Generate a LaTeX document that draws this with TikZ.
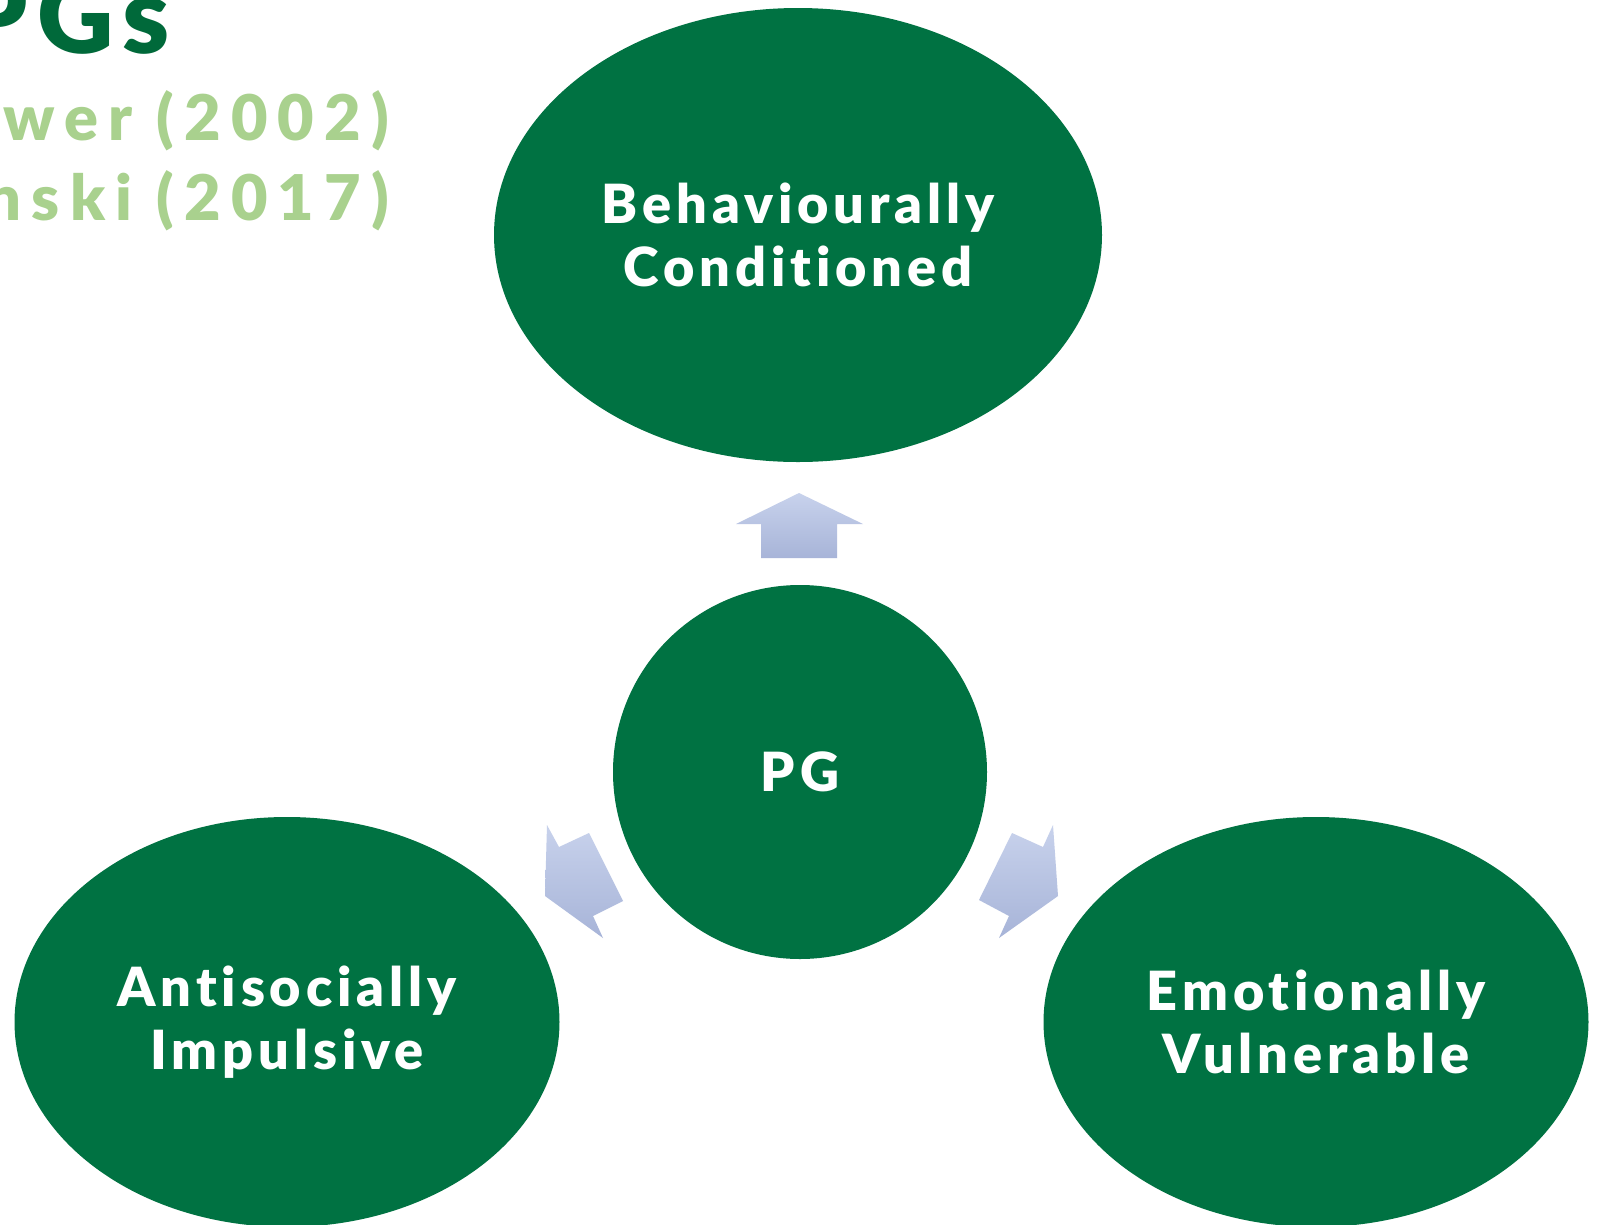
\documentclass[tikz,border=0pt]{standalone}
\usepackage{fontspec}
\setmainfont{Lato}[BoldFont=Lato Black, Ligatures=NoCommon]
\usetikzlibrary{shapes.geometric}
\definecolor{pggreen}{HTML}{007242}
\definecolor{titlegreen}{HTML}{00693A}
\definecolor{lightgreen}{HTML}{A9D18E}
\definecolor{arrowtop}{HTML}{C8D2EC}
\definecolor{arrowbot}{HTML}{A7B4D8}
\newfontfamily\widefont{Lato}[BoldFont=Lato Black, Ligatures=NoCommon, LetterSpace=9]
\newfontfamily\widerfont{Lato}[BoldFont=Lato Black, Ligatures=NoCommon, LetterSpace=16]
\tikzset{
  blob/.style={ellipse, fill=pggreen, inner sep=0pt, text=white, align=center,
    font=\widefont\fontsize{54}{63}\selectfont\bfseries},
  fatarrow/.style={top color=arrowtop, bottom color=arrowbot, draw=none},
  refline/.style={anchor=base east, inner sep=0pt, text=lightgreen,
    font=\widerfont\fontsize{63}{63}\selectfont\bfseries},
}
\begin{document}
\begin{tikzpicture}[x=1pt,y=-1pt]
\useasboundingbox (0,0) rectangle (1601,1224);
\clip (0,0) rectangle (1601,1224);
\fill[white] (0,0) rectangle (1601,1224);
% title fragments
\node[anchor=base east, inner sep=0pt, text=titlegreen,
  font=\widefont\fontsize{106}{106}\selectfont\bfseries] (title) at (170,53) {PGs};
\node[refline] (ref1) at (389,140) {wer (2002)};
\node[refline] (ref2) at (389,220) {nski (2017)};
% nodes
\node[blob, minimum width=608pt, minimum height=454pt] (bc) at (798,235) {Behaviourally\\Conditioned};
\node[blob, minimum width=374pt, minimum height=374pt] (pg) at (800,772) {PG};
\node[blob, minimum width=545pt, minimum height=410pt] (ai) at (287,1022) {Antisocially\\Impulsive};
\node[blob, minimum width=545pt, minimum height=410pt] (ev) at (1316,1022) {Emotionally\\Vulnerable};
% arrows
\shade[fatarrow] (736,524) -- (799,493) -- (863,524) -- (837,524) -- (837,558) -- (761,558) -- (761,524) -- cycle;
\shade[fatarrow] (547,825) -- (559,847) -- (589,833) -- (623,901) -- (593,916) -- (603,938) -- (545,896) -- cycle;
\shade[fatarrow] (1053,825) -- (1043,847) -- (1012,833) -- (979,900) -- (1009,916) -- (999,938) -- (1058,896) -- cycle;
\end{tikzpicture}
\end{document}
